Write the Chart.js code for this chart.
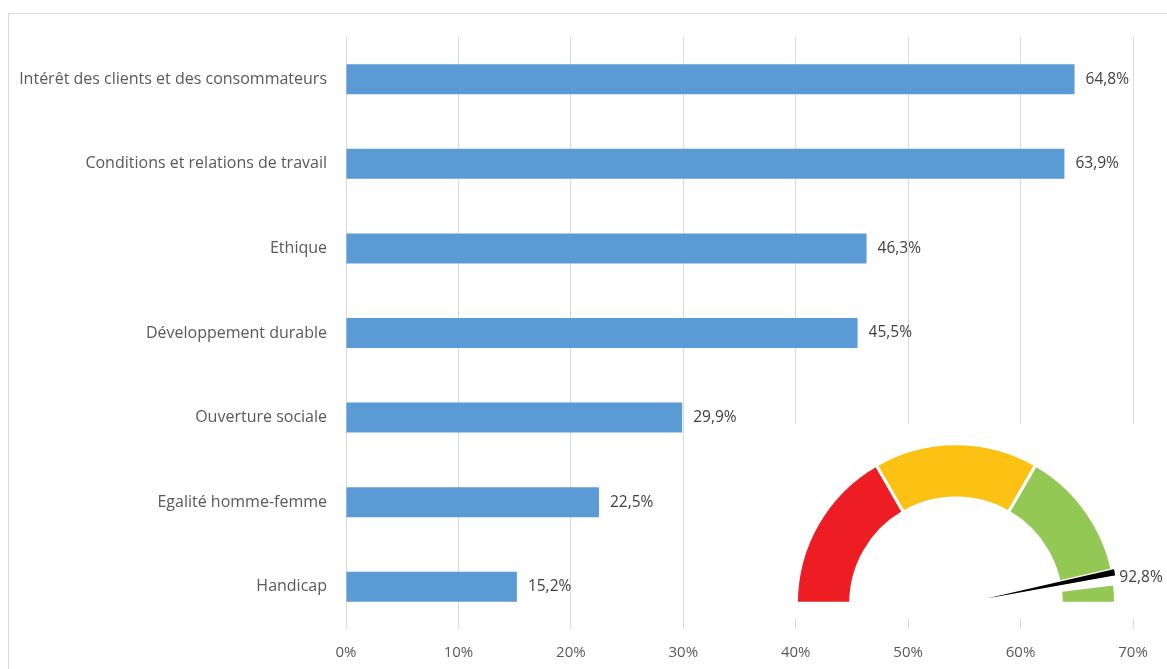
<!DOCTYPE html>
<html lang="fr">
<head>
<meta charset="utf-8">
<script src="https://cdn.jsdelivr.net/npm/chart.js@4.4.1/dist/chart.umd.min.js"></script>
<style>
  html, body { margin: 0; padding: 0; background: #fff; overflow: hidden; }
  #frame { position: absolute; left: 8px; top: 13px; width: 1200px; height: 700px; border: 1px solid #d9d9d9; }
  #main { position: absolute; left: 0; top: 0; }
  #gaugeBox { position: absolute; left: 740px; top: 424px; width: 427px; height: 194px; background: #fff; }
  #gaugeBox canvas { position: absolute; left: 0; top: 0; }
</style>
</head>
<body>
<div id="frame"></div>
<canvas id="main" width="1167" height="669"></canvas>
<div id="gaugeBox">
  <canvas id="gauge" width="427" height="194"></canvas>
  <canvas id="needle" width="427" height="194"></canvas>
</div>
<script>
const categories = [
  "Intérêt des clients et des consommateurs",
  "Conditions et relations de travail",
  "Ethique",
  "Développement durable",
  "Ouverture sociale",
  "Egalité homme-femme",
  "Handicap",
]
const shares = [64.8, 63.9, 46.3, 45.5, 29.9, 22.5, 15.2]
const xTickValues = [0, 10, 20, 30, 40, 50, 60, 70]

// gauge: three equal bands and the needle value (in % of the half circle)
const gaugeBands = [100 / 3, 100 / 3, 100 / 3]
const gaugeValue = 92.8

const FONT = "'Open Sans'"
const fmt = (v) => v.toFixed(1).replace(".", ",") + "%"

const barLabels = {
  id: "barLabels",
  afterDatasetsDraw(chart) {
    const ctx = chart.ctx
    ctx.save()
    ctx.font = "15.5px " + FONT
    ctx.fillStyle = "#404040"
    ctx.textAlign = "left"
    ctx.textBaseline = "middle"
    chart.getDatasetMeta(0).data.forEach((bar, i) => {
      ctx.fillText(fmt(shares[i]), bar.x + 11, bar.y)
    })
    ctx.restore()
  },
}

new Chart(document.getElementById("main"), {
  type: "bar",
  data: {
    labels: categories,
    datasets: [
      {
        data: shares,
        backgroundColor: "#5b9bd5",
        categoryPercentage: 1,
        barPercentage: 0.355,
      },
    ],
  },
  options: {
    indexAxis: "y",
    responsive: false,
    animation: false,
    layout: { padding: { top: 37, right: 34, left: 0, bottom: 0 } },
    plugins: { legend: { display: false }, tooltip: { enabled: false } },
    scales: {
      x: {
        min: 0,
        max: 70,
        afterBuildTicks(scale) {
          scale.ticks = xTickValues.map((v) => ({ value: v }))
        },
        ticks: {
          callback: (v) => v + "%",
          color: "#595959",
          font: { family: FONT, size: 15 },
          padding: 15,
        },
        grid: { color: "#d9d9d9", drawTicks: false },
        border: { display: false },
        afterFit(scale) {
          scale.height = 40
        },
      },
      y: {
        grid: { display: false },
        border: { display: false },
        ticks: {
          color: "#595959",
          font: { family: FONT, size: 16 },
          padding: 11,
        },
        afterFit(scale) {
          scale.width = 346
        },
      },
    },
  },
  plugins: [barLabels],
})

// both gauge layers share this geometry so the needle sits on the bands
const gaugeLayout = { padding: { left: 55, top: 19, right: 50, bottom: 14 } }

new Chart(document.getElementById("gauge"), {
  type: "doughnut",
  data: {
    datasets: [
      {
        data: gaugeBands,
        backgroundColor: ["#ee1d23", "#fcc213", "#92c853"],
        borderColor: "#fff",
        borderWidth: 3,
      },
    ],
  },
  options: {
    responsive: false,
    animation: false,
    rotation: -90,
    circumference: 180,
    cutout: "66%",
    radius: "101%",
    layout: gaugeLayout,
    plugins: { legend: { display: false }, tooltip: { enabled: false } },
  },
})

const NEEDLE_SPAN = 1.5
const NEEDLE_GAP = 1.8
const clear = "rgba(0,0,0,0)"

const needleLabel = {
  id: "needleLabel",
  afterDraw(chart) {
    const arc = chart.getDatasetMeta(0).data[1]
    const { x, y, startAngle, endAngle, outerRadius } = arc.getProps(
      ["x", "y", "startAngle", "endAngle", "outerRadius"],
      true
    )
    const a = (startAngle + endAngle) / 2
    const ctx = chart.ctx
    ctx.save()
    ctx.font = "15.5px " + FONT
    ctx.fillStyle = "#404040"
    ctx.textAlign = "left"
    ctx.textBaseline = "middle"
    ctx.fillText(fmt(gaugeValue), x + Math.cos(a) * outerRadius + 4, y + Math.sin(a) * outerRadius + 5)
    ctx.restore()
  },
}

new Chart(document.getElementById("needle"), {
  type: "doughnut",
  data: {
    datasets: [
      {
        data: [gaugeValue, NEEDLE_SPAN, NEEDLE_GAP, 100 - gaugeValue - NEEDLE_SPAN - NEEDLE_GAP],
        backgroundColor: [clear, "#000", "#fff", clear],
        borderColor: [clear, "#fff", clear, clear],
        borderWidth: 1.5,
      },
    ],
  },
  options: {
    responsive: false,
    animation: false,
    rotation: -90,
    circumference: 180,
    cutout: 0,
    radius: "102%",
    layout: gaugeLayout,
    plugins: { legend: { display: false }, tooltip: { enabled: false } },
  },
  plugins: [needleLabel],
})
</script>
</body>
</html>
